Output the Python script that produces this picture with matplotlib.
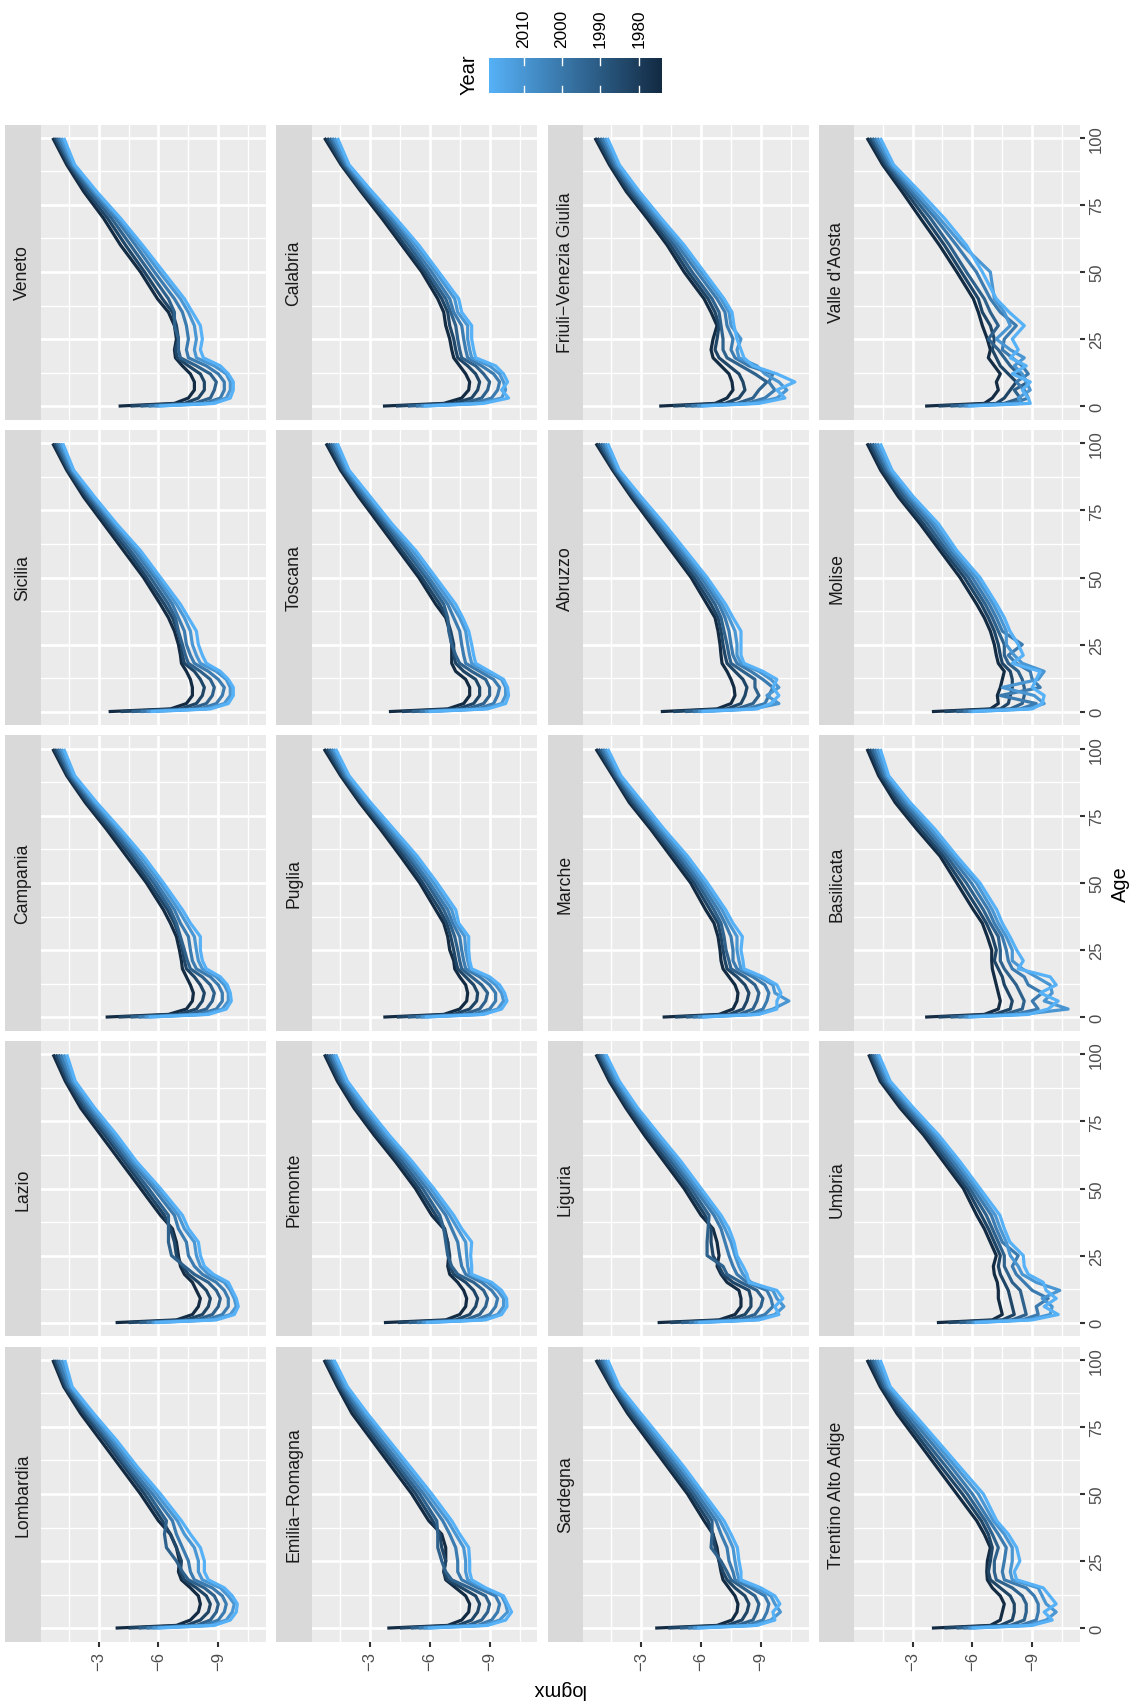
import matplotlib
matplotlib.use("Agg")
import numpy as np
import matplotlib.pyplot as plt
import matplotlib.transforms as mtransforms
from matplotlib.colors import LinearSegmentedColormap, Normalize

plt.rcParams['font.family'] = ['Liberation Sans', 'DejaVu Sans']

# ---------------------------------------------------------------------------
# Data: log death rates (logmx) by single age, one row per calendar year
# ---------------------------------------------------------------------------
AGES = [0, 1, 3, 6, 9, 12, 15, 18, 21, 25, 30, 35, 40, 50, 60, 70, 80, 90, 100]
YEARS = [1974, 1983, 1992, 2001, 2010, 2019]
YEAR_MIN, YEAR_MAX = 1974, 2019
YEAR_TICKS = [1980, 1990, 2000, 2010]

LOMBARDIA = [
    [-3.85, -6.9, -7.6, -8.0, -8.1, -8.0, -7.6, -7.15, -7.0, -7.05, -6.9, -6.6, -6.0, -5.1, -4.1, -3.1, -2.1, -1.25, -0.7],
    [-4.5, -7.4, -8.1, -8.5, -8.6, -8.4, -7.9, -7.3, -7.1, -7.15, -6.9, -6.6, -6.2, -5.3, -4.3, -3.3, -2.25, -1.33, -0.8],
    [-5.0, -7.9, -8.6, -8.9, -9.0, -8.8, -8.3, -7.5, -7.2, -6.9, -6.4, -6.3, -6.4, -5.5, -4.45, -3.45, -2.4, -1.42, -0.9],
    [-5.4, -8.3, -9.0, -9.3, -9.4, -9.2, -8.7, -7.8, -7.6, -7.5, -7.2, -6.9, -6.7, -5.7, -4.6, -3.6, -2.5, -1.5, -1.0],
    [-5.7, -8.6, -9.4, -9.7, -9.8, -9.5, -9.1, -8.2, -8.0, -8.0, -7.8, -7.3, -6.95, -5.9, -4.8, -3.75, -2.65, -1.6, -1.15],
    [-5.95, -8.8, -9.6, -9.9, -9.95, -9.7, -9.3, -8.5, -8.3, -8.3, -8.1, -7.6, -7.15, -6.1, -4.95, -3.9, -2.75, -1.67, -1.3],
]
VENETO = [
    [-4.0, -6.8, -7.5, -7.8, -7.8, -7.6, -7.2, -6.85, -6.8, -6.9, -6.8, -6.5, -5.95, -5.1, -4.1, -3.25, -2.25, -1.4, -0.7],
    [-4.6, -7.3, -8.0, -8.3, -8.3, -8.1, -7.5, -6.95, -6.85, -7.0, -6.9, -6.7, -6.2, -5.3, -4.35, -3.45, -2.4, -1.5, -0.8],
    [-5.1, -7.8, -8.6, -8.8, -8.9, -8.6, -7.9, -7.1, -7.0, -7.0, -6.8, -6.8, -6.5, -5.55, -4.6, -3.65, -2.55, -1.58, -0.9],
    [-5.5, -8.3, -9.1, -9.3, -9.3, -9.0, -8.4, -7.5, -7.4, -7.5, -7.4, -7.2, -6.8, -5.8, -4.85, -3.85, -2.7, -1.66, -1.0],
    [-5.8, -8.6, -9.4, -9.6, -9.6, -9.4, -8.8, -7.9, -7.8, -7.9, -7.8, -7.5, -7.1, -6.05, -5.05, -4.0, -2.8, -1.73, -1.12],
    [-6.0, -8.8, -9.6, -9.75, -9.75, -9.5, -9.1, -8.25, -8.1, -8.2, -8.1, -7.7, -7.3, -6.25, -5.2, -4.1, -2.9, -1.8, -1.25],
]
SICILIA = [
    [-3.5, -6.6, -7.4, -7.7, -7.7, -7.6, -7.4, -7.15, -7.1, -7.0, -6.8, -6.5, -6.1, -5.25, -4.25, -3.25, -2.25, -1.4, -0.7],
    [-4.1, -7.1, -7.9, -8.2, -8.3, -8.1, -7.8, -7.3, -7.2, -7.15, -6.95, -6.7, -6.3, -5.4, -4.45, -3.4, -2.38, -1.48, -0.8],
    [-4.65, -7.6, -8.4, -8.7, -8.8, -8.6, -8.1, -7.5, -7.35, -7.2, -7.0, -6.85, -6.5, -5.6, -4.6, -3.55, -2.5, -1.55, -0.9],
    [-5.1, -8.1, -8.9, -9.2, -9.3, -9.0, -8.5, -7.8, -7.6, -7.4, -7.3, -7.0, -6.7, -5.8, -4.8, -3.7, -2.6, -1.62, -1.0],
    [-5.4, -8.4, -9.3, -9.6, -9.6, -9.4, -8.9, -8.1, -7.9, -7.7, -7.6, -7.3, -6.9, -5.95, -4.95, -3.8, -2.7, -1.7, -1.1],
    [-5.6, -8.6, -9.5, -9.75, -9.75, -9.5, -9.1, -8.4, -8.2, -8.0, -7.9, -7.5, -7.1, -6.1, -5.1, -3.9, -2.8, -1.75, -1.2],
]
CAMPANIA = [
    [-3.35, -6.5, -7.4, -7.7, -7.75, -7.6, -7.4, -7.2, -7.15, -7.05, -6.9, -6.6, -6.25, -5.4, -4.4, -3.4, -2.33, -1.4, -0.7],
    [-4.0, -7.0, -7.9, -8.2, -8.3, -8.1, -7.8, -7.4, -7.3, -7.2, -7.05, -6.8, -6.45, -5.55, -4.6, -3.55, -2.45, -1.48, -0.8],
    [-4.6, -7.5, -8.4, -8.7, -8.8, -8.6, -8.2, -7.6, -7.45, -7.3, -7.1, -6.9, -6.6, -5.75, -4.75, -3.7, -2.58, -1.56, -0.92],
    [-5.0, -8.0, -8.9, -9.2, -9.2, -9.0, -8.6, -7.9, -7.7, -7.6, -7.5, -7.1, -6.8, -5.9, -4.9, -3.85, -2.7, -1.64, -1.02],
    [-5.3, -8.3, -9.2, -9.5, -9.5, -9.3, -8.9, -8.2, -8.0, -7.9, -7.8, -7.4, -7.0, -6.1, -5.1, -3.98, -2.8, -1.72, -1.13],
    [-5.5, -8.5, -9.4, -9.65, -9.6, -9.45, -9.1, -8.4, -8.2, -8.1, -8.1, -7.6, -7.2, -6.25, -5.25, -4.1, -2.9, -1.8, -1.25],
]
LAZIO = [
    [-3.85, -6.9, -7.7, -8.0, -8.1, -7.9, -7.7, -7.3, -7.1, -7.0, -6.9, -6.7, -6.1, -5.1, -4.1, -3.1, -2.1, -1.33, -0.72],
    [-4.5, -7.4, -8.2, -8.5, -8.6, -8.4, -8.0, -7.5, -7.2, -6.9, -6.8, -6.6, -6.3, -5.3, -4.3, -3.3, -2.25, -1.43, -0.85],
    [-5.05, -7.9, -8.7, -9.0, -9.1, -8.9, -8.5, -7.8, -7.3, -6.65, -6.5, -6.5, -6.5, -5.5, -4.45, -3.45, -2.4, -1.53, -0.98],
    [-5.4, -8.4, -9.2, -9.5, -9.5, -9.3, -8.9, -8.2, -7.8, -7.5, -7.4, -7.0, -6.8, -5.75, -4.6, -3.6, -2.55, -1.63, -1.1],
    [-5.65, -8.7, -9.6, -9.9, -9.8, -9.6, -9.3, -8.5, -8.1, -7.9, -7.8, -7.3, -7.0, -5.95, -4.75, -3.75, -2.68, -1.73, -1.25],
    [-5.8, -8.9, -9.8, -10.0, -9.9, -9.7, -9.5, -8.75, -8.3, -8.1, -8.0, -7.5, -7.2, -6.1, -4.9, -3.9, -2.8, -1.83, -1.4],
]
CALABRIA = [
    [-3.65, -6.7, -7.6, -7.95, -8.0, -7.8, -7.5, -7.2, -7.1, -7.0, -6.8, -6.7, -6.4, -5.6, -4.6, -3.6, -2.55, -1.55, -0.72],
    [-4.3, -7.2, -8.1, -8.4, -8.5, -8.3, -7.9, -7.4, -7.3, -7.2, -7.0, -6.9, -6.6, -5.75, -4.75, -3.75, -2.65, -1.63, -0.85],
    [-4.9, -7.7, -8.6, -8.9, -9.0, -8.7, -8.3, -7.6, -7.5, -7.4, -7.3, -7.05, -6.8, -5.9, -4.95, -3.9, -2.78, -1.72, -0.98],
    [-5.3, -8.2, -9.1, -9.4, -9.5, -9.2, -8.6, -7.9, -7.8, -7.7, -7.6, -7.2, -7.0, -6.1, -5.1, -4.05, -2.88, -1.8, -1.1],
    [-5.55, -8.5, -9.6, -9.8, -9.7, -9.5, -9.0, -8.1, -8.0, -7.9, -7.9, -7.4, -7.25, -6.3, -5.3, -4.2, -3.0, -1.88, -1.22],
    [-5.7, -8.7, -9.95, -9.6, -9.9, -9.7, -9.3, -8.3, -8.2, -8.1, -8.1, -7.6, -7.45, -6.45, -5.45, -4.3, -3.1, -1.95, -1.37],
]
TOSCANA = [
    [-3.95, -6.9, -7.7, -8.0, -8.0, -7.8, -7.3, -7.1, -7.1, -7.1, -7.0, -6.8, -6.3, -5.45, -4.45, -3.45, -2.45, -1.53, -0.8],
    [-4.6, -7.4, -8.2, -8.5, -8.5, -8.3, -7.7, -7.3, -7.2, -7.2, -7.05, -6.85, -6.5, -5.6, -4.6, -3.6, -2.58, -1.62, -0.92],
    [-5.1, -7.9, -8.7, -9.0, -9.0, -8.8, -8.1, -7.5, -7.3, -7.1, -6.95, -6.9, -6.7, -5.8, -4.8, -3.75, -2.7, -1.7, -1.03],
    [-5.5, -8.4, -9.2, -9.4, -9.5, -9.2, -8.5, -7.8, -7.7, -7.6, -7.5, -7.2, -6.9, -5.95, -4.95, -3.88, -2.8, -1.79, -1.14],
    [-5.75, -8.7, -9.6, -9.8, -9.8, -9.6, -8.8, -8.1, -8.0, -7.9, -7.8, -7.5, -7.1, -6.15, -5.15, -4.0, -2.93, -1.87, -1.26],
    [-5.95, -8.9, -9.8, -9.95, -9.9, -9.7, -9.0, -8.3, -8.2, -8.1, -7.95, -7.65, -7.3, -6.3, -5.3, -4.1, -3.03, -1.95, -1.37],
]
PUGLIA = [
    [-3.67, -6.7, -7.5, -7.85, -7.9, -7.8, -7.5, -7.25, -7.2, -7.0, -6.9, -6.7, -6.3, -5.5, -4.53, -3.53, -2.48, -1.53, -0.7],
    [-4.35, -7.2, -8.0, -8.35, -8.4, -8.2, -7.8, -7.4, -7.3, -7.2, -7.05, -6.85, -6.5, -5.65, -4.7, -3.67, -2.6, -1.62, -0.83],
    [-4.9, -7.7, -8.5, -8.8, -8.9, -8.6, -8.1, -7.6, -7.5, -7.4, -7.25, -7.0, -6.7, -5.85, -4.87, -3.8, -2.71, -1.7, -0.95],
    [-5.3, -8.2, -9.0, -9.3, -9.3, -9.0, -8.5, -7.8, -7.7, -7.6, -7.5, -7.15, -6.9, -6.0, -5.03, -3.93, -2.82, -1.78, -1.06],
    [-5.55, -8.5, -9.4, -9.7, -9.6, -9.3, -8.8, -8.0, -7.9, -7.8, -7.75, -7.3, -7.1, -6.2, -5.2, -4.07, -2.93, -1.87, -1.17],
    [-5.75, -8.7, -9.6, -9.87, -9.75, -9.5, -9.0, -8.1, -8.0, -7.95, -7.95, -7.45, -7.3, -6.37, -5.37, -4.2, -3.03, -1.95, -1.28],
]
PIEMONTE = [
    [-3.7, -6.8, -7.5, -7.8, -7.85, -7.7, -7.4, -7.0, -6.9, -6.95, -6.9, -6.7, -6.1, -5.28, -4.28, -3.2, -2.2, -1.37, -0.72],
    [-4.4, -7.3, -8.0, -8.3, -8.4, -8.2, -7.8, -7.2, -7.0, -7.0, -6.9, -6.75, -6.3, -5.45, -4.45, -3.35, -2.33, -1.47, -0.83],
    [-4.95, -7.8, -8.5, -8.8, -8.9, -8.7, -8.2, -7.4, -7.1, -6.9, -6.8, -6.7, -6.5, -5.65, -4.62, -3.5, -2.47, -1.57, -0.95],
    [-5.35, -8.3, -9.0, -9.3, -9.4, -9.1, -8.6, -7.8, -7.6, -7.5, -7.4, -7.1, -6.8, -5.85, -4.8, -3.65, -2.6, -1.67, -1.06],
    [-5.6, -8.6, -9.4, -9.7, -9.7, -9.4, -8.9, -8.0, -7.9, -7.85, -7.8, -7.4, -7.0, -6.05, -4.97, -3.8, -2.75, -1.77, -1.17],
    [-5.8, -8.8, -9.6, -9.87, -9.85, -9.6, -9.1, -8.1, -8.1, -8.05, -8.1, -7.6, -7.2, -6.2, -5.12, -3.95, -2.87, -1.87, -1.28],
]
EMILIA_ROMAGNA = [
    [-3.87, -6.9, -7.6, -7.95, -8.0, -7.8, -7.3, -6.8, -6.7, -6.8, -6.8, -6.6, -5.95, -5.1, -4.1, -3.1, -2.1, -1.37, -0.7],
    [-4.5, -7.4, -8.1, -8.4, -8.5, -8.3, -7.6, -6.9, -6.7, -6.8, -6.6, -6.5, -6.15, -5.3, -4.3, -3.27, -2.27, -1.47, -0.8],
    [-5.05, -7.9, -8.6, -8.9, -9.0, -8.8, -8.0, -7.1, -6.8, -6.6, -6.4, -6.4, -6.35, -5.5, -4.47, -3.45, -2.43, -1.57, -0.9],
    [-5.45, -8.4, -9.1, -9.4, -9.5, -9.3, -8.4, -7.6, -7.4, -7.4, -7.3, -7.0, -6.65, -5.7, -4.65, -3.6, -2.58, -1.67, -1.0],
    [-5.7, -8.7, -9.5, -9.9, -9.8, -9.6, -8.7, -7.9, -7.8, -7.8, -7.7, -7.3, -6.9, -5.9, -4.85, -3.8, -2.73, -1.77, -1.1],
    [-5.9, -8.9, -9.8, -10.1, -9.9, -9.7, -8.8, -8.1, -8.0, -8.0, -7.95, -7.5, -7.1, -6.1, -5.03, -3.95, -2.87, -1.87, -1.2],
]
FRIULI = [
    [-3.9, -6.7, -7.3, -7.6, -7.55, -7.4, -7.0, -6.6, -6.5, -6.6, -6.8, -6.5, -6.15, -5.15, -4.3, -3.3, -2.25, -1.4, -0.68],
    [-4.6, -7.2, -7.9, -8.2, -8.1, -7.9, -7.4, -6.9, -6.7, -6.8, -6.9, -6.7, -6.35, -5.35, -4.47, -3.45, -2.38, -1.5, -0.8],
    [-5.2, -7.8, -8.6, -8.9, -9.3, -8.7, -8.0, -7.3, -7.1, -7.1, -7.0, -6.9, -6.55, -5.55, -4.65, -3.6, -2.52, -1.6, -0.93],
    [-5.5, -8.3, -9.2, -9.7, -9.4, -9.6, -8.4, -7.7, -7.5, -7.6, -7.3, -7.2, -6.8, -5.8, -4.82, -3.72, -2.65, -1.7, -1.05],
    [-5.8, -8.6, -9.8, -10.3, -9.9, -9.2, -8.8, -7.9, -7.8, -8.0, -7.5, -7.4, -7.0, -6.0, -5.0, -3.87, -2.78, -1.8, -1.18],
    [-6.0, -8.9, -10.2, -9.8, -10.7, -9.8, -8.6, -8.15, -8.0, -7.8, -7.65, -7.55, -7.15, -6.15, -5.15, -4.0, -2.9, -1.9, -1.3],
]
ABRUZZO = [
    [-3.98, -6.8, -7.5, -7.7, -7.65, -7.5, -7.3, -7.05, -7.0, -6.95, -6.85, -6.7, -6.3, -5.5, -4.5, -3.5, -2.5, -1.57, -0.73],
    [-4.6, -7.3, -8.0, -8.2, -8.3, -8.1, -7.7, -7.3, -7.2, -7.1, -7.0, -6.85, -6.5, -5.65, -4.65, -3.63, -2.6, -1.64, -0.85],
    [-5.2, -7.8, -8.6, -8.9, -8.7, -8.7, -8.1, -7.5, -7.4, -7.3, -7.15, -7.0, -6.7, -5.82, -4.8, -3.77, -2.7, -1.7, -0.97],
    [-5.6, -8.3, -9.2, -9.4, -9.6, -9.1, -8.5, -7.8, -7.6, -7.5, -7.4, -7.2, -6.9, -6.0, -4.95, -3.9, -2.8, -1.77, -1.08],
    [-5.85, -8.6, -9.9, -9.3, -9.9, -9.5, -8.9, -8.0, -7.8, -7.8, -7.7, -7.4, -7.05, -6.15, -5.1, -4.03, -2.9, -1.84, -1.2],
    [-6.0, -8.8, -9.5, -9.9, -9.6, -9.8, -9.1, -8.15, -8.0, -8.0, -8.0, -7.6, -7.23, -6.3, -5.23, -4.15, -3.0, -1.9, -1.32],
]
MARCHE = [
    [-4.07, -6.9, -7.6, -7.8, -7.85, -7.7, -7.4, -7.1, -7.0, -6.95, -6.85, -6.65, -6.23, -5.48, -4.48, -3.48, -2.4, -1.57, -0.73],
    [-4.7, -7.4, -8.1, -8.3, -8.4, -8.2, -7.8, -7.3, -7.2, -7.1, -7.0, -6.85, -6.45, -5.65, -4.65, -3.62, -2.53, -1.65, -0.85],
    [-5.25, -7.9, -8.6, -8.8, -8.9, -8.7, -8.2, -7.5, -7.4, -7.25, -7.15, -7.0, -6.65, -5.82, -4.82, -3.75, -2.67, -1.73, -0.97],
    [-5.6, -8.4, -9.1, -9.3, -9.4, -9.2, -8.6, -7.8, -7.6, -7.6, -7.5, -7.2, -6.85, -5.98, -4.98, -3.88, -2.8, -1.82, -1.08],
    [-5.85, -8.7, -9.6, -10.4, -9.7, -9.6, -8.9, -8.0, -7.9, -7.8, -7.8, -7.4, -7.05, -6.15, -5.15, -4.02, -2.93, -1.9, -1.2],
    [-6.05, -8.9, -9.8, -9.8, -10.0, -9.8, -9.1, -8.15, -8.1, -8.0, -8.07, -7.6, -7.23, -6.32, -5.32, -4.15, -3.07, -1.98, -1.32],
]
LIGURIA = [
    [-3.82, -6.9, -7.7, -8.0, -8.0, -7.9, -7.3, -7.0, -6.8, -6.9, -6.8, -6.6, -6.0, -5.15, -4.15, -3.15, -2.23, -1.4, -0.73],
    [-4.45, -7.4, -8.2, -8.5, -8.5, -8.4, -7.6, -7.1, -6.9, -6.6, -6.5, -6.5, -6.2, -5.32, -4.32, -3.3, -2.35, -1.5, -0.83],
    [-5.0, -7.9, -8.7, -9.0, -9.1, -8.8, -8.0, -7.3, -7.1, -6.3, -6.3, -6.35, -6.4, -5.5, -4.5, -3.45, -2.47, -1.6, -0.93],
    [-5.4, -8.4, -9.2, -9.6, -9.5, -9.3, -8.3, -7.8, -7.6, -7.4, -7.2, -7.0, -6.65, -5.67, -4.67, -3.6, -2.59, -1.7, -1.03],
    [-5.65, -8.7, -9.7, -10.15, -9.8, -9.6, -8.5, -8.1, -7.9, -7.7, -7.5, -7.2, -6.85, -5.83, -4.83, -3.75, -2.7, -1.8, -1.13],
    [-5.85, -8.9, -9.9, -9.7, -10.1, -9.8, -8.4, -8.3, -8.1, -7.8, -7.65, -7.4, -7.0, -6.0, -5.0, -3.9, -2.82, -1.9, -1.23],
]
SARDEGNA = [
    [-3.7, -6.8, -7.55, -7.8, -7.85, -7.7, -7.4, -7.1, -7.0, -6.9, -6.8, -6.6, -6.15, -5.32, -4.32, -3.32, -2.32, -1.48, -0.73],
    [-4.35, -7.3, -8.05, -8.3, -8.4, -8.2, -7.7, -7.3, -7.1, -6.9, -6.7, -6.6, -6.35, -5.48, -4.48, -3.47, -2.45, -1.56, -0.85],
    [-4.95, -7.8, -8.6, -8.8, -8.9, -8.7, -8.1, -7.5, -7.3, -7.0, -6.5, -6.55, -6.55, -5.65, -4.65, -3.62, -2.58, -1.65, -0.97],
    [-5.35, -8.3, -9.1, -9.3, -9.4, -9.2, -8.5, -7.7, -7.6, -7.4, -7.3, -7.0, -6.75, -5.82, -4.82, -3.77, -2.72, -1.73, -1.08],
    [-5.6, -8.6, -9.5, -9.98, -9.7, -9.5, -8.8, -7.9, -7.8, -7.7, -7.6, -7.3, -6.95, -6.0, -5.0, -3.92, -2.85, -1.82, -1.2],
    [-5.8, -8.8, -9.7, -9.6, -9.95, -9.7, -9.0, -8.0, -8.0, -7.9, -7.82, -7.5, -7.15, -6.15, -5.15, -4.07, -2.98, -1.9, -1.32],
]
VALLE_D_AOSTA = [
    [-3.63, -6.6, -7.0, -7.3, -7.2, -7.4, -7.1, -6.8, -6.9, -6.75, -6.5, -6.3, -6.05, -5.22, -4.35, -3.4, -2.47, -1.5, -0.72],
    [-4.3, -7.2, -7.6, -7.9, -8.2, -7.8, -7.4, -7.2, -7.0, -7.1, -6.9, -6.5, -6.3, -5.45, -4.6, -3.65, -2.65, -1.62, -0.85],
    [-4.9, -7.6, -8.4, -8.1, -8.8, -8.3, -7.9, -7.6, -7.3, -6.8, -7.3, -6.9, -6.6, -5.7, -4.85, -3.9, -2.82, -1.74, -0.98],
    [-5.3, -8.0, -8.8, -8.6, -8.2, -8.8, -8.5, -8.0, -7.5, -7.6, -8.2, -7.4, -6.9, -6.2, -5.2, -4.15, -2.98, -1.85, -1.1],
    [-5.6, -8.5, -8.3, -8.9, -8.7, -8.5, -8.1, -8.6, -7.9, -7.2, -7.9, -7.6, -7.1, -6.9, -5.5, -4.35, -3.15, -1.95, -1.23],
    [-5.8, -8.9, -8.8, -8.5, -8.9, -8.0, -8.7, -7.9, -8.3, -8.0, -8.6, -7.85, -7.2, -6.5, -5.7, -4.6, -3.35, -2.05, -1.38],
]
MOLISE = [
    [-3.97, -6.9, -7.3, -7.25, -7.4, -7.5, -7.6, -7.3, -7.2, -7.1, -6.9, -6.6, -6.22, -5.38, -4.38, -3.38, -2.3, -1.4, -0.72],
    [-4.6, -7.4, -7.8, -7.9, -8.0, -8.0, -7.9, -7.5, -7.4, -7.3, -7.1, -6.8, -6.45, -5.6, -4.55, -3.55, -2.45, -1.52, -0.85],
    [-5.2, -7.9, -8.5, -8.6, -8.6, -8.5, -8.3, -7.8, -7.6, -7.6, -7.3, -7.0, -6.65, -5.8, -4.72, -3.75, -2.62, -1.64, -0.98],
    [-5.55, -8.4, -9.2, -7.4, -9.4, -9.0, -8.9, -8.2, -7.8, -8.5, -7.5, -7.2, -6.85, -6.0, -4.9, -3.95, -2.78, -1.76, -1.1],
    [-5.8, -8.8, -9.6, -9.1, -7.5, -9.3, -9.6, -8.5, -8.1, -7.7, -7.7, -7.4, -7.05, -6.2, -5.05, -4.12, -2.92, -1.86, -1.23],
    [-5.95, -9.0, -9.5, -9.6, -9.0, -9.2, -9.4, -8.0, -8.55, -8.3, -7.88, -7.6, -7.22, -6.38, -5.22, -4.3, -3.05, -1.97, -1.38],
]
BASILICATA = [
    [-3.63, -6.6, -7.3, -7.4, -7.3, -7.2, -7.1, -7.0, -6.97, -6.97, -6.75, -6.5, -6.05, -5.22, -4.38, -3.22, -2.13, -1.3, -0.72],
    [-4.3, -7.1, -7.9, -8.0, -7.8, -7.6, -7.5, -7.3, -7.1, -7.2, -7.0, -6.7, -6.3, -5.45, -4.55, -3.4, -2.3, -1.42, -0.85],
    [-4.9, -7.6, -8.5, -8.6, -8.4, -8.2, -7.9, -7.6, -7.4, -7.4, -7.3, -6.9, -6.55, -5.7, -4.72, -3.6, -2.45, -1.52, -0.98],
    [-5.3, -8.1, -9.3, -9.0, -9.5, -8.8, -8.6, -8.0, -7.8, -7.7, -7.5, -7.1, -6.8, -5.95, -4.9, -3.78, -2.6, -1.62, -1.1],
    [-5.6, -8.5, -10.8, -9.6, -10.0, -9.9, -9.2, -8.5, -8.0, -8.0, -7.7, -7.3, -7.0, -6.2, -5.05, -3.95, -2.75, -1.71, -1.23],
    [-5.8, -8.8, -9.8, -10.3, -9.4, -10.2, -9.9, -8.3, -8.55, -8.22, -7.88, -7.5, -7.22, -6.38, -5.22, -4.13, -2.88, -1.8, -1.38],
]
UMBRIA = [
    [-4.22, -7.0, -7.5, -7.4, -7.3, -7.3, -7.25, -7.1, -7.05, -7.2, -6.9, -6.6, -6.22, -5.55, -4.55, -3.55, -2.38, -1.38, -0.8],
    [-4.8, -7.5, -8.1, -8.0, -7.9, -7.8, -7.6, -7.4, -7.3, -7.4, -7.1, -6.8, -6.45, -5.72, -4.72, -3.7, -2.52, -1.48, -0.9],
    [-5.35, -8.0, -8.7, -8.6, -8.5, -8.4, -8.0, -7.8, -7.6, -7.6, -7.3, -7.0, -6.7, -5.88, -4.88, -3.85, -2.66, -1.58, -1.0],
    [-5.7, -8.5, -9.3, -9.2, -9.8, -9.0, -8.6, -8.2, -8.0, -8.3, -7.5, -7.2, -6.95, -6.05, -5.05, -4.0, -2.8, -1.68, -1.1],
    [-5.95, -8.8, -9.9, -10.0, -9.5, -10.38, -9.2, -8.5, -8.3, -7.9, -7.7, -7.4, -7.15, -6.22, -5.22, -4.15, -2.93, -1.78, -1.2],
    [-6.1, -9.0, -10.3, -9.6, -10.2, -9.7, -9.55, -8.8, -8.6, -8.55, -7.88, -7.6, -7.38, -6.38, -5.38, -4.3, -3.05, -1.88, -1.3],
]
TRENTINO = [
    [-3.97, -6.9, -7.4, -7.5, -7.6, -7.4, -7.0, -6.75, -6.72, -6.75, -6.9, -6.6, -6.22, -5.22, -4.22, -3.22, -2.22, -1.38, -0.72],
    [-4.6, -7.4, -8.0, -8.1, -8.1, -7.9, -7.4, -6.9, -6.8, -6.9, -7.0, -6.8, -6.45, -5.5, -4.45, -3.42, -2.38, -1.48, -0.85],
    [-5.2, -7.9, -8.6, -8.7, -8.7, -8.5, -8.0, -7.2, -7.1, -7.1, -7.3, -7.0, -6.65, -5.75, -4.7, -3.62, -2.55, -1.58, -0.98],
    [-5.55, -8.4, -9.2, -9.3, -9.3, -9.1, -8.7, -7.6, -7.5, -7.6, -7.7, -7.3, -6.85, -6.0, -4.95, -3.85, -2.72, -1.68, -1.1],
    [-5.8, -8.8, -9.7, -10.2, -9.7, -9.5, -9.3, -8.0, -7.9, -8.0, -8.0, -7.6, -7.05, -6.3, -5.18, -4.05, -2.9, -1.78, -1.23],
    [-5.95, -9.0, -10.0, -9.6, -10.2, -9.88, -9.55, -8.22, -8.1, -8.38, -8.22, -7.8, -7.22, -6.55, -5.38, -4.22, -3.05, -1.88, -1.38],
]

# Facet grid as displayed: one list per column, panels listed top to bottom
FACET_COLUMNS = [
    [("Veneto", VENETO), ("Sicilia", SICILIA), ("Campania", CAMPANIA),
     ("Lazio", LAZIO), ("Lombardia", LOMBARDIA)],
    [("Calabria", CALABRIA), ("Toscana", TOSCANA), ("Puglia", PUGLIA),
     ("Piemonte", PIEMONTE), ("Emilia\u2212Romagna", EMILIA_ROMAGNA)],
    [("Friuli\u2212Venezia Giulia", FRIULI), ("Abruzzo", ABRUZZO), ("Marche", MARCHE),
     ("Liguria", LIGURIA), ("Sardegna", SARDEGNA)],
    [("Valle d'Aosta", VALLE_D_AOSTA), ("Molise", MOLISE), ("Basilicata", BASILICATA),
     ("Umbria", UMBRIA), ("Trentino Alto Adige", TRENTINO)],
]

LOGMX_TICKS = [-3, -6, -9]
LOGMX_MINOR = [-1.5, -4.5, -7.5, -10.5]
AGE_TICKS = [0, 25, 50, 75, 100]
AGE_MINOR = [12.5, 37.5, 62.5, 87.5]

# ---------------------------------------------------------------------------
# Styling
# ---------------------------------------------------------------------------
W, H = 1139, 1706
DPI = 100
PANEL_BG = "#EBEBEB"
STRIP_BG = "#D9D9D9"
TICK_TEXT = "#4D4D4D"
TICK_LINE = "#333333"
STRIP_SIZE = 12.7
TICK_SIZE = 12.0
LEGEND_SIZE = 12.4
TITLE_SIZE = 14.4

cmap = LinearSegmentedColormap.from_list("year", ["#132B43", "#56B1F7"])
norm = Normalize(YEAR_MIN, YEAR_MAX)

fig = plt.figure(figsize=(W / DPI, H / DPI), dpi=DPI)
fig.patch.set_facecolor("white")


def px_axes(x0, y0, w, h):
    """Axes placed by pixel box (origin top-left)."""
    return fig.add_axes([x0 / W, 1 - (y0 + h) / H, w / W, h / H])


COL_STEP = 271.3
ROW_STEP = 305.5
STRIP_X0, STRIP_W = 5.0, 35.5
PANEL_X0, PANEL_W = 40.5, 225.5
PANEL_Y0, PANEL_H = 125.5, 295.0

n_cols = len(FACET_COLUMNS)
for c, column in enumerate(FACET_COLUMNS):
    n_rows = len(column)
    for r, (name, rates) in enumerate(column):
        top = PANEL_Y0 + r * ROW_STEP

        # strip with the region name
        sax = px_axes(STRIP_X0 + c * COL_STEP, top, STRIP_W, PANEL_H)
        sax.set_facecolor(STRIP_BG)
        sax.set_xticks([])
        sax.set_yticks([])
        for sp in sax.spines.values():
            sp.set_visible(False)
        sax.text(0.5, 0.5, name, rotation=90, ha="center", va="center",
                 transform=sax.transAxes, fontsize=STRIP_SIZE, color="#1A1A1A")

        ax = px_axes(PANEL_X0 + c * COL_STEP, top, PANEL_W, PANEL_H)
        ax.set_facecolor(PANEL_BG)
        for sp in ax.spines.values():
            sp.set_visible(False)
        ax.set_xlim(-0.085, -11.39)
        ax.set_ylim(-5, 105)
        ax.set_xticks(LOGMX_TICKS)
        ax.set_xticks(LOGMX_MINOR, minor=True)
        ax.set_yticks(AGE_TICKS)
        ax.set_yticks(AGE_MINOR, minor=True)
        ax.grid(which="major", color="white", linewidth=1.9)
        ax.grid(which="minor", color="white", linewidth=0.95)
        ax.set_axisbelow(True)

        for yr, vals in zip(YEARS, rates):
            ax.plot(vals, AGES, color=cmap(norm(yr)), linewidth=2.3,
                    solid_joinstyle="round", solid_capstyle="butt", zorder=3)

        ax.tick_params(which="both", length=0, labelbottom=False, labelleft=False)

        if r == n_rows - 1:
            ax.tick_params(axis="x", which="major", length=3.6, width=1.5,
                           color=TICK_LINE, labelbottom=True, labelsize=TICK_SIZE,
                           labelcolor=TICK_TEXT, labelrotation=90, pad=2.9)
        if c == n_cols - 1:
            ax.yaxis.tick_right()
            ax.tick_params(axis="y", which="major", length=3.6, width=1.5,
                           color=TICK_LINE, labelright=True, labelleft=False,
                           labelsize=TICK_SIZE, labelcolor=TICK_TEXT,
                           labelrotation=90, pad=2.9)
            ax.tick_params(axis="y", which="minor", length=0)
            for lbl in ax.get_yticklabels():
                lbl.set_verticalalignment("center")

# axis titles
fig.text(1120 / W, 1 - 884 / H, "Age", rotation=90, ha="center", va="center",
         fontsize=TITLE_SIZE, color="black")
fig.text(558 / W, 1 - 1690 / H, "logmx", rotation=180, ha="center", va="center",
         fontsize=TITLE_SIZE, color="black")

# colour bar legend for Year
cax = px_axes(489, 59, 172.7, 34.7)
grad = np.linspace(YEAR_MIN, YEAR_MAX, 300).reshape(1, -1)
cax.imshow(grad, cmap=cmap, norm=norm, aspect="auto",
           extent=(YEAR_MIN, YEAR_MAX, 0, 1), origin="lower")
cax.set_xlim(YEAR_MAX, YEAR_MIN)
cax.set_ylim(0, 1)
cax.set_xticks([])
cax.set_yticks([])
for sp in cax.spines.values():
    sp.set_visible(False)
for yr in YEAR_TICKS:
    cax.plot([yr, yr], [0, 0.2], color="white", linewidth=1.0)
    cax.plot([yr, yr], [0.8, 1.0], color="white", linewidth=1.0)
blend = mtransforms.blended_transform_factory(cax.transData, cax.transAxes)
for yr in YEAR_TICKS:
    cax.text(yr, 1.33, str(yr), rotation=90, ha="center", va="bottom",
             transform=blend, fontsize=LEGEND_SIZE, color="black", clip_on=False)
fig.text(469 / W, 1 - 95 / H, "Year", rotation=90, ha="center", va="bottom",
         fontsize=TITLE_SIZE, color="black")

fig.savefig("out.png", dpi=DPI, facecolor="white")
